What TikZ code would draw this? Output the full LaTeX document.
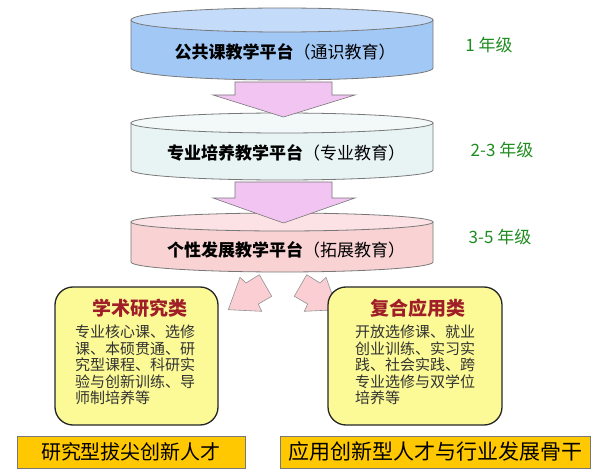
\documentclass[tikz,border=0pt]{standalone}
\usepackage{fontspec}
\setmainfont{Noto Sans CJK SC}
\definecolor{c1top}{RGB}{196,220,250}
\definecolor{c1body}{RGB}{162,200,246}
\definecolor{c2top}{RGB}{243,249,249}
\definecolor{c2body}{RGB}{232,244,244}
\definecolor{c3top}{RGB}{252,226,228}
\definecolor{c3body}{RGB}{249,210,212}
\definecolor{edge}{RGB}{120,120,120}
\definecolor{downarrow}{RGB}{242,196,242}
\definecolor{diagarrow}{RGB}{250,206,210}
\definecolor{boxyellow}{RGB}{252,250,150}
\definecolor{gold}{RGB}{255,200,0}
\definecolor{titlered}{RGB}{160,30,40}
\definecolor{gradegreen}{RGB}{30,140,30}
\begin{document}
\begin{tikzpicture}[x=1pt,y=-1pt,
  cylline/.style={draw=edge, line width=0.8pt},
  downarr/.style={draw=edge, fill=downarrow, line width=0.6pt},
  diagarr/.style={draw=edge!80, fill=diagarrow, line width=0.6pt},
  platform/.style={font=\fontsize{17}{20}\selectfont, text=black, inner sep=0pt},
  grade/.style={font=\fontsize{17}{20}\selectfont, text=gradegreen, inner sep=0pt},
  catbox/.style={draw=black!85, line width=1.3pt, fill=boxyellow, rounded corners=18pt, minimum height=138pt, inner sep=0pt},
  cattitle/.style={font=\fontsize{19}{22}\selectfont\bfseries, text=titlered, inner sep=0pt},
  catbody/.style={font=\fontsize{15}{16.5}\selectfont, text=black!80, align=left, anchor=north west, inner sep=0pt},
  talent/.style={draw=edge, fill=gold, line width=0.8pt, minimum height=32pt, inner sep=0pt}
]
\useasboundingbox (0,0) rectangle (600,476);
% cylinder 1
\path[cylline, fill=c1body] (131,20) -- (131,68) arc[start angle=180,end angle=0,x radius=151,y radius=12] -- (433,20) -- cycle;
\path[cylline, fill=c1top] (282,20) ellipse[x radius=151,y radius=12];
% cylinder 2
\path[cylline, fill=c2body] (131,123) -- (131,170) arc[start angle=180,end angle=0,x radius=151,y radius=10] -- (433,123) -- cycle;
\path[cylline, fill=c2top] (282,123) ellipse[x radius=151,y radius=10];
% arrow 1
\path[downarr] (235,82) -- (332,82) -- (332,95) -- (355,95) -- (283.5,117) -- (213,95) -- (235,95) -- cycle;
% cylinder 3
\path[cylline, fill=c3body] (131,222) -- (131,262) arc[start angle=180,end angle=0,x radius=151,y radius=10] -- (433,222) -- cycle;
\path[cylline, fill=c3top] (282,222) ellipse[x radius=151,y radius=9];
% arrow 2
\path[downarr] (235,182) -- (332,182) -- (332,198) -- (355,198) -- (283.5,223) -- (213,198) -- (235,198) -- cycle;
% platform texts
\node[platform] (p1) at (285,52) {\textbf{公共课教学平台}（通识教育）};
\node[platform] (p2) at (286,153) {\textbf{专业培养教学平台}（专业教育）};
\node[platform] (p3) at (286,250) {\textbf{个性发展教学平台}（拓展教育）};
% grades
\node[grade] (g1) at (489,45) {1 年级};
\node[grade] (g2) at (502,150) {2-3 年级};
\node[grade] (g3) at (500,237) {3-5 年级};
% diagonal arrows
\path[diagarr] (228.3,309.7) -- (240,277.3) -- (246,283) -- (259.3,274.7) -- (271.7,296.3) -- (258.3,304) -- (261.7,311.3) -- cycle;
\path[diagarr] (337.7,309.7) -- (326,277.3) -- (320,283) -- (306.7,274.7) -- (294.3,296.3) -- (307.7,304) -- (304.3,311.3) -- cycle;
% category boxes
\node[catbox, minimum width=163pt] (acad) at (136.5,356) {};
\node[catbox, minimum width=174pt] (appl) at (415,356) {};
\node[cattitle] (acadT) at (140,308) {学术研究类};
\node[cattitle] (applT) at (418,308) {复合应用类};
\node[catbody] (acadB) at (75,325) {专业核心课、选修\\课、本硕贯通、研\\究型课程、科研实\\验与创新训练、导\\师制培养等};
\node[catbody] (applB) at (355,325) {开放选修课、就业\\创业训练、实习实\\践、社会实践、跨\\专业选修与双学位\\培养等};
% talent boxes
\node[talent, minimum width=228pt, font=\fontsize{20}{24}\selectfont] (t1) at (131,452) {研究型拔尖创新人才};
\node[talent, minimum width=310pt, font=\fontsize{21}{24}\selectfont] (t2) at (435,452) {应用创新型人才与行业发展骨干};
\end{tikzpicture}
\end{document}
